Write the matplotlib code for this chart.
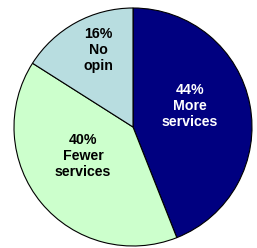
import matplotlib
matplotlib.use("Agg")
import matplotlib.pyplot as plt

labels = ["44%\nMore\nservices", "40%\nFewer\nservices", "16%\nNo\nopin"]
values = [44, 40, 16]
colors = ["#000080", "#CCFFCC", "#B8DDE0"]
text_colors = ["white", "black", "black"]

W, H = 257, 248
fig = plt.figure(figsize=(W / 100, H / 100), dpi=100)
cx, cy, r = 133, 127, 119
ax = fig.add_axes([(cx - r) / W, (H - cy - r) / H, 2 * r / W, 2 * r / H])

wedges, _ = ax.pie(values, colors=colors, startangle=90, counterclock=False,
                   radius=1, wedgeprops=dict(edgecolor="black", linewidth=0.8))
ax.set_xlim(-1, 1)
ax.set_ylim(-1, 1)
ax.axis("off")

label_pos = [((190 - cx) / r, (cy - 106) / r),
             ((83 - cx) / r, (cy - 156) / r),
             ((98 - cx) / r, (cy - 50) / r)]
for lab, (x, y), tc in zip(labels, label_pos, text_colors):
    ax.text(x, y, lab, ha="center", va="center", color=tc, fontsize=10.2,
            fontweight="bold", family="Liberation Sans", linespacing=1.15)

fig.savefig("out.png", dpi=100)
